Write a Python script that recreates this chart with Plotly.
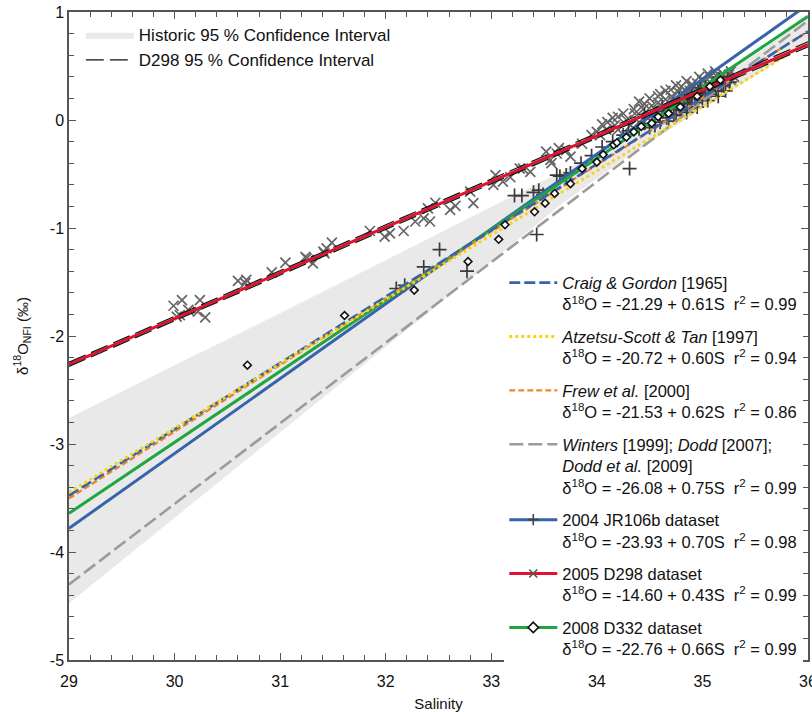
import plotly.graph_objects as go

# ---------------- data ----------------
S_ENDS = [29, 36]
craig_y = [-3.478, 0.82]
atzetsu_y = [-3.448, 0.72]
frew_y = [-3.503, 0.82]
winters_y = [-4.30, 0.92]
jr106b_y = [-3.781, 1.07]
d298_y = [-2.262, 0.70]
d332_y = [-3.642, 0.96]
d298_ci_up = [-2.242, 0.725]
d298_ci_lo = [-2.282, 0.678]

hist_S = [29, 30, 31, 32, 33, 33.65, 34.2, 34.8, 35.4, 36]
hist_upper = [-2.76, -2.27, -1.79, -1.30, -0.81, -0.49, -0.215, 0.15, 0.54, 0.94]
hist_lower = [-4.475, -3.68, -2.89, -2.10, -1.31, -0.79, -0.40, -0.02, 0.35, 0.71]

x_ticks = [29, 30, 31, 32, 33, 34, 35, 36]
x_ticktext = ["29", "30", "31", "32", "33", "34", "35", "36"]
y_ticks = [-5, -4, -3, -2, -1, 0, 1]
y_ticktext = ["-5", "-4", "-3", "-2", "-1", "0", "1"]

d298_S = [29.99, 30.07, 30.13, 30.24, 30.29, 30.05, 30.02, 30.22,
          30.60, 30.68, 30.67, 30.92, 31.05,
          31.24, 31.27, 31.31, 31.25, 31.41, 31.44, 31.49, 31.42,
          31.85, 31.99, 32.04, 32.17,
          32.28, 32.36, 32.42, 32.47, 32.40, 32.61, 32.66, 32.83, 32.80,
          33.02, 33.04, 33.11, 33.18, 33.27, 33.30, 33.37, 33.52, 33.56, 33.57, 33.62,
          33.64, 33.71, 33.75, 33.86, 33.95, 34.00, 34.03, 34.09, 34.17, 34.20,
          34.28, 34.32, 34.36, 34.40, 34.44, 34.48, 34.52, 34.55, 34.58, 34.62,
          34.65, 34.68, 34.71, 34.74, 34.77, 34.80, 34.83, 34.86, 34.89, 34.92,
          34.95, 34.98, 35.01, 35.04, 35.07, 35.10, 35.13, 35.16, 35.19, 35.22,
          35.25, 35.28,
          34.05, 34.20, 34.40, 34.50, 34.60, 34.70, 34.80, 34.90, 35.00, 35.10, 35.20,
          34.35, 34.45, 34.55, 34.58, 34.65, 34.72, 34.75, 34.82, 34.85, 34.88,
          34.95, 34.97, 35.02, 35.05, 35.08, 35.12, 35.15, 35.18, 35.23, 35.27,
          35.30, 34.25, 34.15, 34.10]
d298_v = [-1.72, -1.667, -1.759, -1.667, -1.827, -1.806, -1.82, -1.775,
          -1.49, -1.48, -1.51, -1.41, -1.32,
          -1.266, -1.296, -1.327, -1.281, -1.219, -1.188, -1.136, -1.235,
          -1.028, -1.08, -1.05, -1.028,
          -0.94, -0.91, -0.94, -0.766, -0.818, -0.833, -0.796, -0.77, -0.664,
          -0.60, -0.51, -0.57, -0.53, -0.45, -0.45, -0.48, -0.293, -0.37, -0.40, -0.31,
          -0.26, -0.28, -0.34, -0.22, -0.14, -0.11, -0.14, -0.09, -0.05, -0.09,
          0.00, -0.05, 0.06, -0.02, 0.10, 0.02, 0.13, 0.04, 0.16, 0.07,
          0.19, 0.10, 0.22, 0.12, 0.26, 0.15, 0.28, 0.18, 0.31, 0.20,
          0.34, 0.22, 0.37, 0.25, 0.40, 0.27, 0.41, 0.30, 0.43, 0.33,
          0.42, 0.36,
          -0.04, 0.03, 0.17, 0.20, 0.24, 0.28, 0.31, 0.33, 0.36, 0.38, 0.42,
          0.10, 0.15, 0.10, 0.22, 0.27, 0.18, 0.32, 0.24, 0.36, 0.27,
          0.28, 0.40, 0.31, 0.43, 0.34, 0.45, 0.36, 0.40, 0.38, 0.45,
          0.40, 0.06, 0.02, -0.02]

jr_S = [32.10, 32.18, 32.36, 32.51, 32.77, 33.43, 34.31,
        33.22, 33.29, 33.40, 33.45, 33.49, 33.62, 33.65, 33.71, 33.75,
        33.85, 33.95, 34.05, 34.15, 34.25, 34.30,
        34.40, 34.45, 34.50, 34.55, 34.60, 34.63, 34.66, 34.70, 34.73, 34.76,
        34.80, 34.83, 34.86, 34.90, 34.93, 34.96, 35.00, 35.03, 35.06, 35.10,
        35.13, 35.16, 35.20, 35.24,
        34.45, 34.55, 34.62, 34.68, 34.75, 34.78, 34.85, 34.88, 34.95, 34.98,
        35.05, 35.08, 35.15, 35.18, 35.22, 35.26]
jr_v = [-1.56, -1.53, -1.36, -1.20, -1.40, -1.06, -0.45,
        -0.70, -0.70, -0.67, -0.65, -0.69, -0.51, -0.52, -0.51, -0.49,
        -0.40, -0.33, -0.25, -0.20, -0.14, -0.10,
        -0.08, -0.03, -0.07, 0.03, -0.02, 0.08, 0.02, 0.12, 0.05, 0.15,
        0.09, 0.19, 0.12, 0.23, 0.16, 0.26, 0.20, 0.30, 0.24, 0.34,
        0.27, 0.37, 0.32, 0.40,
        0.05, -0.05, 0.12, -0.01, 0.04, 0.20, 0.07, 0.15, 0.12, 0.30,
        0.18, 0.28, 0.22, 0.32, 0.27, 0.35]

d332_S = [30.69, 31.61, 32.27, 32.78, 33.07, 33.13, 33.41, 33.51, 33.60,
          33.75, 33.86, 34.00, 34.06, 34.16, 34.19, 34.28, 34.35, 34.42,
          34.52, 34.58, 34.68, 34.79, 34.95, 35.07, 35.17]
d332_v = [-2.27, -1.81, -1.575, -1.31, -1.105, -0.97, -0.85, -0.77, -0.68,
          -0.59, -0.45, -0.39, -0.32, -0.23, -0.21, -0.16, -0.11, -0.06,
          -0.03, 0.03, 0.06, 0.12, 0.22, 0.31, 0.37]

SP = "\u00a0\u00a0"
names = {
    "craig": "<i>Craig &amp; Gordon</i> [1965]<br>δ<sup>18</sup>O = -21.29 + 0.61S" + SP + "r<sup>2</sup> = 0.99",
    "atz": "<i>Atzetsu-Scott &amp; Tan</i> [1997]<br>δ<sup>18</sup>O = -20.72 + 0.60S" + SP + "r<sup>2</sup> = 0.94",
    "frew": "<i>Frew et al.</i> [2000]<br>δ<sup>18</sup>O = -21.53 + 0.62S" + SP + "r<sup>2</sup> = 0.86",
    "win": "<i>Winters</i> [1999]; <i>Dodd</i> [2007];<br><i>Dodd et al.</i> [2009]<br>δ<sup>18</sup>O = -26.08 + 0.75S" + SP + "r<sup>2</sup> = 0.99",
    "jr": "2004 JR106b dataset<br>δ<sup>18</sup>O = -23.93 + 0.70S" + SP + "r<sup>2</sup> = 0.98",
    "d298": "2005 D298 dataset<br>δ<sup>18</sup>O = -14.60 + 0.43S" + SP + "r<sup>2</sup> = 0.99",
    "d332": "2008 D332 dataset<br>δ<sup>18</sup>O = -22.76 + 0.66S" + SP + "r<sup>2</sup> = 0.99",
}

BLUE = "#3763ad"
RED = "#e3102f"
GREEN = "#1fa640"
ORANGE = "#f0862a"
YELLOW = "#f6d414"
GREY = "#9b9b9b"
FONT = "Liberation Sans, Arial, sans-serif"

fig = go.Figure()

# historic CI band
fig.add_trace(go.Scatter(
    x=hist_S + hist_S[::-1], y=hist_upper + hist_lower[::-1],
    fill="toself", fillcolor="#e9e9e9", mode="lines", line=dict(width=0, color="#e9e9e9"),
    name="Historic 95 % Confidence Interval", legend="legend2", legendgroup="h"))


def line(y, color, dash, width, name=None, show=False, group=None, leg="legend"):
    fig.add_trace(go.Scatter(
        x=S_ENDS, y=y, mode="lines", line=dict(color=color, dash=dash, width=width),
        name=name, showlegend=show, legendgroup=group, legend=leg))


# markers drawn first
fig.add_trace(go.Scatter(x=d298_S, y=d298_v, mode="markers", showlegend=False,
                         marker=dict(symbol="x-thin", size=10, line=dict(color="#656565", width=1.7))))
fig.add_trace(go.Scatter(x=jr_S, y=jr_v, mode="markers", showlegend=False,
                         marker=dict(symbol="cross-thin", size=10, line=dict(color="#3a3a3a", width=1.7))))

line(winters_y, GREY, "14px,5px", 2.6, names["win"], True, "g4")
line(jr106b_y, BLUE, "solid", 3, None, False)
line(d332_y, GREEN, "solid", 3, None, False)
line(frew_y, ORANGE, "6px,3px", 2.4, names["frew"], True, "g3")
line(craig_y, BLUE, "11px,4px", 2.6, names["craig"], True, "g1")
line(atzetsu_y, YELLOW, "dot", 2.8, names["atz"], True, "g2")
line(d298_y, RED, "solid", 3, None, False)
line(d298_ci_up, "#111111", "18px,6px", 1.2, "D298 95 % Confidence Interval", True, "ci", "legend2")
line(d298_ci_lo, "#111111", "18px,6px", 1.2, None, False, "ci", "legend2")

fig.add_trace(go.Scatter(x=d332_S, y=d332_v, mode="markers", showlegend=False,
                         marker=dict(symbol="diamond", size=6, color="white",
                                     line=dict(color="#111111", width=1.6))))

# legend-only entries for the datasets
for key, col, sym, grp, mcol in [("jr", BLUE, "cross-thin", "g5", "#444444"),
                                 ("d298", RED, "x-thin", "g6", "#555555"),
                                 ("d332", GREEN, "diamond", "g7", "#111111")]:
    fig.add_trace(go.Scatter(
        x=[None], y=[None], mode="lines+markers", name=names[key], legendgroup=grp,
        line=dict(color=col, width=3),
        marker=dict(symbol=sym, size=8, color="white" if sym == "diamond" else mcol,
                    line=dict(color=mcol, width=1.6))))

order = {"g1": 1, "g2": 2, "g3": 3, "g4": 4, "g5": 5, "g6": 6, "g7": 7}
for tr in fig.data:
    if tr.legendgroup in order:
        tr.legendrank = order[tr.legendgroup]
    elif tr.legendgroup == "h":
        tr.legendrank = 1
    elif tr.legendgroup == "ci":
        tr.legendrank = 2

axis_common = dict(
    showgrid=False, zeroline=False, showline=True, linecolor="#555555", linewidth=1.5,
    ticks="inside", ticklen=7, tickwidth=1.2, tickcolor="#555555", mirror="ticks",
    tickfont=dict(size=16, color="#111111", family=FONT), automargin=False,
    ticklabeloverflow="allow",
    minor=dict(ticks="inside", ticklen=5, tickwidth=1.2, tickcolor="#555555", dtick=0.2, showgrid=False),
)

fig.update_layout(
    width=812, height=712,
    margin=dict(l=69, r=4, t=12, b=52),
    paper_bgcolor="white", plot_bgcolor="white",
    font=dict(family=FONT, size=15, color="#111111"),
    xaxis=dict(range=[29, 36], tickmode="array", tickvals=x_ticks, ticktext=x_ticktext,
               ticklabelstandoff=6,
               title=dict(text="Salinity", font=dict(size=15)), **axis_common),
    yaxis=dict(range=[-5, 1], tickmode="array", tickvals=y_ticks, ticktext=y_ticktext,
               title=dict(text="δ<sup>18</sup>O<sub>NFI</sub> (‰)", font=dict(size=15), standoff=18),
               **axis_common),
    legend=dict(x=0.589, y=0.609, xanchor="left", yanchor="top", bgcolor="white",
                borderwidth=0, traceorder="grouped", tracegroupgap=8, valign="top",
                itemwidth=48, font=dict(size=16.5, family=FONT)),
    legend2=dict(x=0.016, y=0.992, xanchor="left", yanchor="top", bgcolor="rgba(0,0,0,0)",
                 borderwidth=0, traceorder="grouped", tracegroupgap=0,
                 itemwidth=48, font=dict(size=17, family=FONT)),
)

fig.write_html("out.html", config={"displayModeBar": False},
               post_script="document.body.style.margin='0';document.body.style.overflow='hidden';")
